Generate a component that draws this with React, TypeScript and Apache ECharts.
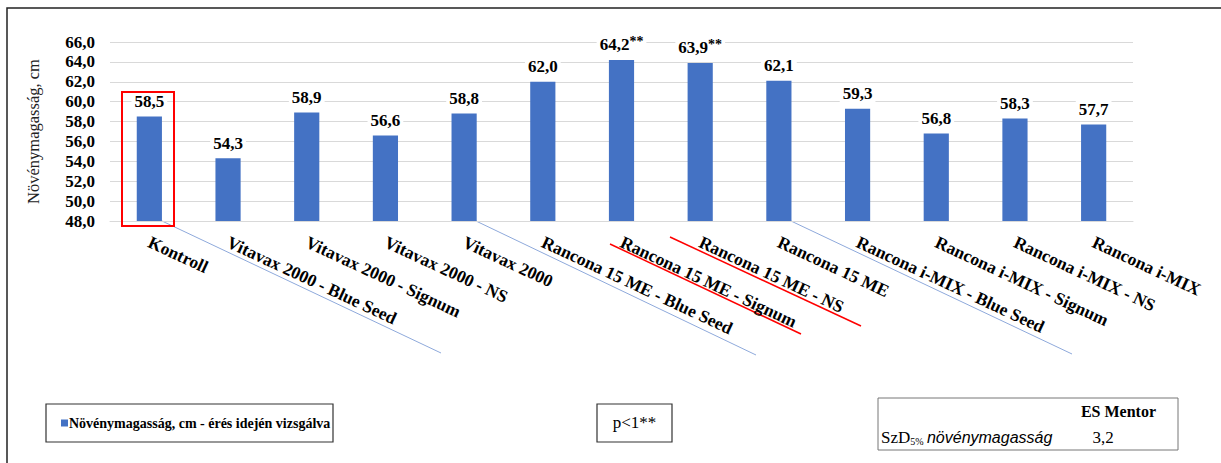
import React, { useEffect, useRef } from "react";
import * as echarts from "echarts";

const categories: string[] = [
  "Kontroll",
  "Vitavax 2000 - Blue Seed",
  "Vitavax 2000 - Signum",
  "Vitavax 2000 - NS",
  "Vitavax 2000",
  "Rancona 15 ME - Blue Seed",
  "Rancona 15 ME - Signum",
  "Rancona 15 ME - NS",
  "Rancona 15 ME",
  "Rancona i-MIX - Blue Seed",
  "Rancona i-MIX - Signum",
  "Rancona i-MIX - NS",
  "Rancona i-MIX",
];

const values: number[] = [58.5, 54.3, 58.9, 56.6, 58.8, 62.0, 64.2, 63.9, 62.1, 59.3, 56.8, 58.3, 57.7];
const significance: string[] = ["", "", "", "", "", "", "**", "**", "", "", "", "", ""];

const seriesName = "Növénymagasság, cm - érés idején vizsgálva";
const yAxisName = "Növénymagasság, cm";
const yMin = 48;
const yMax = 66;
const yInterval = 2;

const FONT = "Liberation Serif";

const fmt = (v: number) => v.toFixed(1).replace(".", ",");

export default function App() {
  const ref = useRef<HTMLDivElement>(null);

  useEffect(() => {
    if (!ref.current) return;
    const chart = echarts.init(ref.current, undefined, { renderer: "svg" });
    const blue = "#8EA9DB";
    const red = "#FF0000";
    chart.setOption({
      animation: false,
      textStyle: { fontFamily: FONT },
      grid: { left: 110, right: 88, top: 42, bottom: 242, containLabel: false },
      legend: {
        left: 61,
        top: 416,
        itemWidth: 7,
        itemHeight: 7,
        icon: "rect",
        padding: 0,
        textStyle: { fontFamily: FONT, fontWeight: "bold", fontSize: 14, color: "#000", padding: [0, 0, 0, -4] },
        data: [seriesName],
      },
      xAxis: {
        type: "category",
        data: categories,
        axisLine: { show: true, lineStyle: { color: "#d9d9d9", width: 1 } },
        axisTick: { show: false },
        axisLabel: {
          interval: 0,
          rotate: -25,
          margin: 20,
          fontFamily: FONT,
          fontWeight: "bold",
          fontSize: 17.5,
          color: "#000",
        },
      },
      yAxis: {
        type: "value",
        min: yMin,
        max: yMax,
        interval: yInterval,
        name: yAxisName,
        nameLocation: "middle",
        nameGap: 68,
        nameTextStyle: { fontFamily: FONT, fontSize: 16.5, color: "#222" },
        axisLine: { show: false },
        axisTick: { show: false },
        splitLine: { lineStyle: { color: "#d9d9d9", width: 1 } },
        axisLabel: {
          margin: 15,
          fontFamily: FONT,
          fontWeight: "bold",
          fontSize: 17,
          color: "#000",
          formatter: (v: number) => fmt(v),
        },
      },
      series: [
        {
          name: seriesName,
          type: "bar",
          barWidth: "32%",
          itemStyle: { color: "#4472C4" },
          data: values,
          label: {
            show: true,
            position: "top",
            distance: 5,
            backgroundColor: "#fff",
            padding: [0, 3, 0, 3],
            formatter: (p: any) => {
              const s = significance[p.dataIndex];
              return s ? `{v|${fmt(p.value)}}{s|${s}}` : `{v|${fmt(p.value)}}`;
            },
            rich: {
              v: { fontFamily: FONT, fontWeight: "bold", fontSize: 17, color: "#000", lineHeight: 20 },
              s: { fontFamily: FONT, fontWeight: "bold", fontSize: 14, color: "#000", lineHeight: 20, verticalAlign: "top", padding: [0, 0, 9, 0] },
            },
          },
        },
      ],
      graphic: [
        { type: "polyline", shape: { points: [[7, 470], [7, 8], [1230, 8]] }, style: { stroke: "#222", lineWidth: 1.5, fill: "none" }, silent: true },
        { type: "rect", shape: { x: 122, y: 92, width: 52, height: 134 }, style: { stroke: red, lineWidth: 2, fill: "none" }, z: 10 },
        { type: "line", shape: { x1: 162, y1: 221, x2: 441, y2: 353 }, style: { stroke: blue, lineWidth: 1 } },
        { type: "line", shape: { x1: 476, y1: 221, x2: 756, y2: 355 }, style: { stroke: blue, lineWidth: 1 } },
        { type: "line", shape: { x1: 791, y1: 221, x2: 1072, y2: 354 }, style: { stroke: blue, lineWidth: 1 } },
        { type: "line", shape: { x1: 610, y1: 244, x2: 801, y2: 334 }, style: { stroke: red, lineWidth: 1.5 } },
        { type: "line", shape: { x1: 670, y1: 237, x2: 861, y2: 326 }, style: { stroke: red, lineWidth: 1.5 } },
        { type: "rect", shape: { x: 46, y: 404, width: 287, height: 38 }, style: { stroke: "#333", lineWidth: 1.2, fill: "none" } },
        { type: "rect", shape: { x: 597, y: 404, width: 75, height: 38 }, style: { stroke: "#333", lineWidth: 1.2, fill: "none" } },
        {
          type: "text",
          x: 634.5,
          y: 422,
          style: { text: "p<1**", font: `17px ${FONT}`, fill: "#000", align: "center", verticalAlign: "middle" },
        },
        { type: "rect", shape: { x: 878, y: 398, width: 300, height: 52 }, style: { stroke: "#777", lineWidth: 1, fill: "none" } },
        {
          type: "text",
          x: 1156,
          y: 411,
          style: { text: "ES Mentor", font: `bold 16px ${FONT}`, fill: "#000", align: "right", verticalAlign: "middle" },
        },
        {
          type: "text",
          x: 881,
          y: 437,
          style: {
            text: "{a|SzD}{b|5%} {c|növénymagasság}",
            fill: "#000",
            align: "left",
            verticalAlign: "middle",
            rich: {
              a: { fontFamily: FONT, fontSize: 17, fill: "#000", lineHeight: 18 },
              b: { fontFamily: FONT, fontSize: 10, fill: "#000", lineHeight: 18, verticalAlign: "bottom" },
              c: { fontFamily: "Liberation Sans", fontStyle: "italic", fontSize: 16, fill: "#000", lineHeight: 18 },
            },
          },
        },
        {
          type: "text",
          x: 1103,
          y: 437,
          style: { text: "3,2", font: `17px ${FONT}`, fill: "#000", align: "center", verticalAlign: "middle" },
        },
      ],
    });
    return () => chart.dispose();
  }, []);

  return (
    <div
      ref={ref}
      style={{ position: "fixed", left: 0, top: 0, width: 1221, height: 463, background: "#fff" }}
    />
  );
}
